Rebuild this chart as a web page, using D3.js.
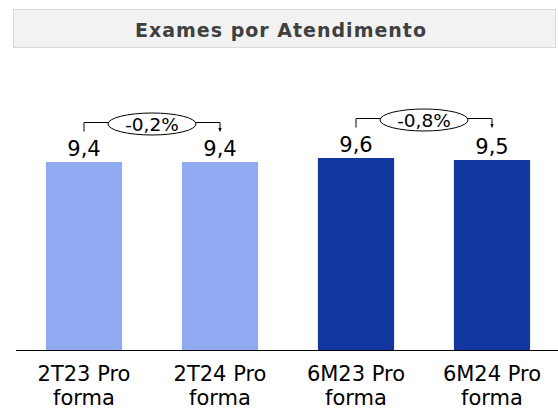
<!DOCTYPE html>
<html>
<head>
  <meta charset="utf-8">
  <title>Exames por Atendimento</title>
  <script src="https://d3js.org/d3.v7.min.js"></script>
  <style>
    body { margin: 0; background: #fff; }
    svg { display: block; }
    text { font-family: "DejaVu Sans", sans-serif; }
  </style>
</head>
<body>
  <svg width="558" height="410"></svg>
  <script>
    const categories = ["2T23 Pro forma", "2T24 Pro forma", "6M23 Pro forma", "6M24 Pro forma"];
    const values = [9.4, 9.4, 9.6, 9.5];
    const labels = ["9,4", "9,4", "9,6", "9,5"];
    const colors = ["#8faaf1", "#8faaf1", "#1237a0", "#1237a0"];
    // variação entre pares de barras
    const changes = [
      { from: 0, to: 1, text: "-0,2%" },
      { from: 2, to: 3, text: "-0,8%" }
    ];

    const svg = d3.select("svg");

    // caixa do título
    svg.append("rect")
      .attr("x", 13.5).attr("y", 9.5)
      .attr("width", 542).attr("height", 38)
      .attr("fill", "#f2f2f2")
      .attr("stroke", "#d9d9d9");

    svg.append("text")
      .attr("x", 281).attr("y", 37)
      .attr("text-anchor", "middle")
      .attr("font-size", 19)
      .attr("font-weight", "bold")
      .attr("letter-spacing", 1)
      .attr("fill", "#404040")
      .text("Exames por Atendimento");

    const x = d3.scaleBand()
      .domain(categories)
      .range([16, 560])
      .paddingInner(0.44)
      .paddingOuter(0.22);

    const y = d3.scaleLinear()
      .domain([0, 10])
      .range([350, 150]);

    svg.append("g")
      .selectAll("rect")
      .data(values)
      .join("rect")
      .attr("x", (d, i) => x(categories[i]))
      .attr("y", d => y(d))
      .attr("width", x.bandwidth())
      .attr("height", d => y(0) - y(d))
      .attr("fill", (d, i) => colors[i]);

    // eixo
    svg.append("line")
      .attr("x1", 16).attr("x2", 558)
      .attr("y1", y(0) + 0.5).attr("y2", y(0) + 0.5)
      .attr("stroke", "#000")
      .attr("stroke-width", 1);

    svg.append("g")
      .selectAll("text")
      .data(values)
      .join("text")
      .attr("x", (d, i) => x(categories[i]) + x.bandwidth() / 2)
      .attr("y", d => y(d) - 6)
      .attr("text-anchor", "middle")
      .attr("font-size", 21)
      .attr("fill", "#000")
      .text((d, i) => labels[i]);

    const cat = svg.append("g")
      .selectAll("text")
      .data(categories)
      .join("text")
      .attr("text-anchor", "middle")
      .attr("font-size", 21)
      .attr("fill", "#000");
    cat.each(function(d) {
      const parts = d.split(" ");
      const t = d3.select(this);
      const cx = x(d) + x.bandwidth() / 2;
      t.append("tspan").attr("x", cx).attr("y", 381).text(parts[0] + " " + parts[1]);
      t.append("tspan").attr("x", cx).attr("y", 405).text(parts[2]);
    });

    // marcador de seta
    svg.append("defs").append("marker")
      .attr("id", "arrow")
      .attr("viewBox", "0 0 6 6")
      .attr("refX", 6).attr("refY", 3)
      .attr("markerWidth", 4).attr("markerHeight", 4)
      .attr("markerUnits", "userSpaceOnUse")
      .attr("orient", "auto")
      .append("path")
      .attr("d", "M0,0 L6,3 L0,6 Z")
      .attr("fill", "#000");

    changes.forEach(c => {
      const x1 = x(categories[c.from]) + x.bandwidth() / 2;
      const x2 = x(categories[c.to]) + x.bandwidth() / 2;
      const top = y(Math.max(values[c.from], values[c.to])) - 39.5;
      const cx = (x1 + x2) / 2;
      svg.append("path")
        .attr("d", `M${x1},${top + 9} V${top} H${cx}`)
        .attr("fill", "none")
        .attr("stroke", "#000");
      svg.append("path")
        .attr("d", `M${cx},${top} H${x2} V${top + 9}`)
        .attr("fill", "none")
        .attr("stroke", "#000")
        .attr("marker-end", "url(#arrow)");
      svg.append("ellipse")
        .attr("cx", cx).attr("cy", top + 1.5)
        .attr("rx", 44).attr("ry", 11)
        .attr("fill", "#fff")
        .attr("stroke", "#000");
      svg.append("text")
        .attr("x", cx).attr("y", top + 8.5)
        .attr("text-anchor", "middle")
        .attr("font-size", 18.5)
        .attr("fill", "#000")
        .text(c.text);
    });
  </script>
</body>
</html>
